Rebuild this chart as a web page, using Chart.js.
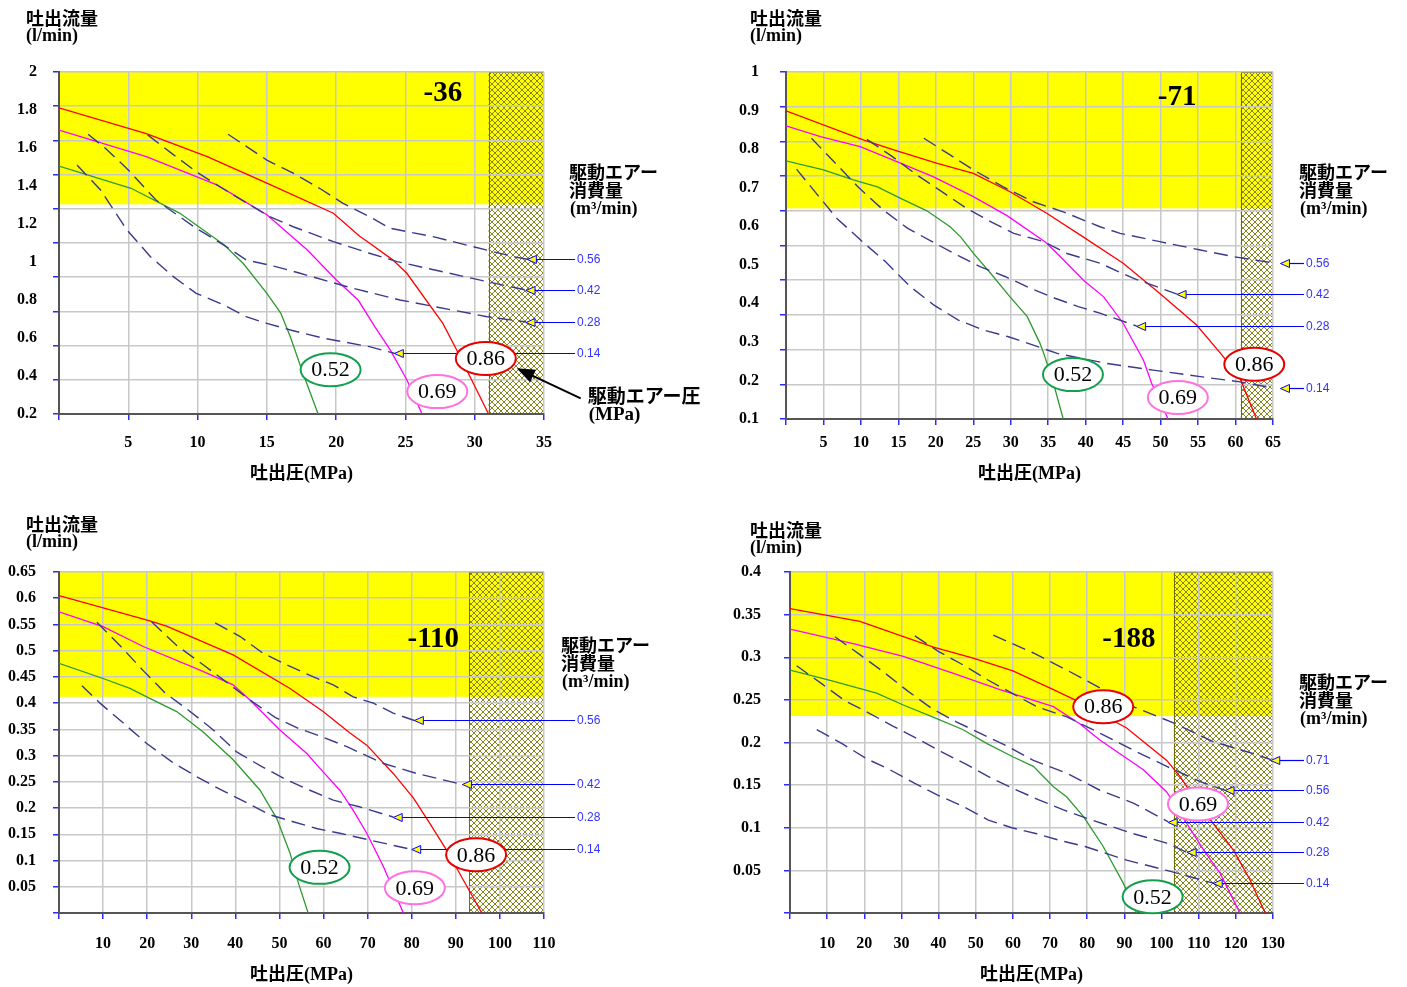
<!DOCTYPE html>
<html>
<head>
<meta charset="utf-8">
<script src="https://cdn.jsdelivr.net/npm/chart.js@4"></script>
<style>
  body { margin: 0; background: #fff; overflow: hidden; }
  #wrap { position: relative; width: 1407px; height: 987px; }
  canvas { position: absolute; }
</style>
</head>
<body>
<div id="wrap">
  <canvas id="c1" width="703" height="493" style="left:0;top:0"></canvas>
  <canvas id="c2" width="704" height="493" style="left:703px;top:0"></canvas>
  <canvas id="c3" width="703" height="494" style="left:0;top:493px"></canvas>
  <canvas id="c4" width="704" height="494" style="left:703px;top:493px"></canvas>
</div>
<script>

// ---- data: 吐出圧 (MPa) vs 吐出流量 (l/min) ----

const MODELS = ["-36", "-71", "-110", "-188"]
const AIR = ["0.14", "0.28", "0.42", "0.56", "0.71"]   // 駆動エアー消費量 (m3/min)
const DRIVE = ["0.52", "0.69", "0.86"]                 // 駆動エアー圧 (MPa)

const X_MAX = [35, 65, 110, 130]
const X_STEP = [5, 5, 10, 10]
const Y_MAX = [2, 1, 0.65, 0.4]
const Y_STEP = [0.2, 0.1, 0.05, 0.05]
const Y_LABEL_MIN = [0.2, 0.1, null, null]   // top charts print their labels on a shifted scale

const YELLOW_FROM = [1.226, 0.607, 0.412, 0.231]
const HATCH_FROM = [31, 60.7, 93, 103.3]

// -36
const c1Green = [[0,1.45],[5.2,1.32],[8.7,1.175],[11.9,0.99],[13.3,0.88],[15,0.705],[16,0.59],[16.7,0.45],[17.6,0.24],[18.7,0]]
const c1Pink = [[0,1.66],[6.3,1.505],[11.4,1.34],[15,1.165],[17.9,0.96],[20,0.785],[21.6,0.665],[22.8,0.51],[23.9,0.375],[25.1,0.2],[26.2,0]]
const c1Red = [[0,1.79],[6.3,1.64],[10.7,1.505],[15,1.35],[19.8,1.174],[21.7,1.04],[22.4,1.0],[24.1,0.9],[25.1,0.823],[27.7,0.53],[28.7,0.374],[29.9,0.18],[31,0]]
const c1Air14 = [[1.3,1.456],[3,1.31],[4.9,1.076],[6.6,0.92],[8.25,0.803],[9.9,0.706],[11.9,0.637],[13.5,0.569],[15,0.53],[16.7,0.491],[19.1,0.443],[22.4,0.394],[24.2,0.355]]
const c1Air28 = [[2.1,1.636],[3.4,1.55],[5,1.427],[7,1.251],[9.9,1.086],[11.9,0.988],[13.5,0.901],[15.5,0.865],[17.4,0.823],[20.8,0.744],[24.6,0.667],[30.9,0.569],[33.7,0.538]]
const c1Air42 = [[6.4,1.632],[8.2,1.52],[9.9,1.417],[11.6,1.329],[13.4,1.241],[15.2,1.154],[16.9,1.095],[19.8,1.008],[22.4,0.94],[24.4,0.891],[30.9,0.774],[33.7,0.725]]
const c1Air56 = [[12.2,1.636],[15,1.485],[16.9,1.408],[18.8,1.32],[20.5,1.232],[22.4,1.154],[23.9,1.086],[27,1.037],[29.9,0.978],[32.8,0.92],[33.8,0.905]]

// -71
const c2Green = [[0,0.744],[5,0.718],[9,0.689],[12.2,0.669],[15.3,0.636],[18.8,0.6],[21.9,0.554],[23.3,0.525],[25,0.478],[27.3,0.42],[29.9,0.352],[32.2,0.295],[33.9,0.218],[34.4,0.189],[35.7,0.103],[37,0]]
const c2Pink = [[0,0.845],[4.6,0.814],[9.9,0.785],[14.8,0.742],[19.7,0.698],[25,0.641],[29.5,0.586],[34.6,0.51],[36.2,0.477],[39.7,0.4],[42.4,0.352],[45,0.276],[47.7,0.17],[48.8,0.103],[51,0]]
const c2Red = [[0,0.888],[10.4,0.804],[14.8,0.773],[20.2,0.737],[25,0.708],[29.9,0.655],[34.8,0.593],[39.5,0.527],[45,0.449],[49.9,0.362],[54.8,0.271],[58.2,0.184],[60.6,0.117],[62.8,0]]
const c2Air14 = [[1.4,0.72],[4.2,0.646],[6.8,0.578],[10.2,0.511],[13.3,0.453],[16.6,0.381],[19.7,0.329],[23,0.285],[26.4,0.256],[29.7,0.237],[33,0.213],[36.2,0.189],[42.8,0.16],[49,0.141],[55.3,0.122],[60.6,0.107],[64.6,0.091]]
const c2Air28 = [[3.4,0.809],[6.6,0.737],[9.7,0.667],[13,0.602],[16.2,0.55],[19.5,0.511],[22.8,0.473],[25.9,0.439],[29.3,0.41],[32.6,0.377],[35.9,0.348],[39,0.324],[41.9,0.305],[46.8,0.268]]
const c2Air42 = [[10.8,0.806],[14.2,0.756],[17.3,0.706],[20.6,0.658],[23.9,0.61],[27.3,0.569],[30.4,0.535],[34.4,0.511],[37.5,0.477],[41.9,0.449],[46.4,0.405],[52.2,0.36]]
const c2Air56 = [[18.4,0.809],[21.9,0.761],[25,0.718],[29,0.669],[33,0.626],[37,0.597],[41.9,0.554],[44.6,0.535],[49.9,0.511],[55.3,0.487],[59.7,0.468],[65,0.45]]

// -110
const c3Green = [[0,0.476],[10,0.447],[16.1,0.428],[19.9,0.412],[26.7,0.384],[32.7,0.345],[39.5,0.292],[45.6,0.234],[49.4,0.18],[52.4,0.114],[54.3,0.057],[56.5,0]]
const c3Pink = [[0,0.574],[10,0.546],[19.1,0.508],[32,0.463],[39.5,0.435],[43.3,0.406],[50.1,0.349],[56.2,0.304],[59.9,0.269],[63.7,0.234],[66.7,0.196],[69.8,0.152],[73.6,0.088],[78.1,0]]
const c3Red = [[0,0.605],[20.6,0.557],[24.4,0.547],[39.5,0.492],[52.4,0.428],[59.9,0.384],[66,0.343],[69.8,0.32],[75.8,0.266],[80.4,0.219],[84.1,0.171],[87.9,0.12],[91.7,0.063],[95.9,0]]
const c3Air14 = [[5.2,0.433],[9.3,0.4],[14.6,0.362],[19.9,0.323],[25.6,0.288],[31.2,0.26],[36.9,0.234],[42.2,0.212],[47.9,0.187],[53.1,0.174],[58.4,0.161],[63.7,0.152],[70.5,0.139],[80,0.121]]
const c3Air28 = [[8.6,0.554],[13.8,0.51],[19.1,0.462],[24,0.42],[29.3,0.387],[35,0.349],[40.3,0.307],[46,0.279],[51.6,0.254],[56.9,0.234],[62.2,0.215],[67.9,0.203],[75.8,0.183]]
const c3Air42 = [[21,0.555],[26.7,0.51],[32.4,0.475],[38,0.44],[43.3,0.406],[49,0.373],[54.3,0.352],[59.9,0.335],[65.3,0.317],[73.6,0.285],[81.1,0.266],[91.5,0.245]]
const c3Air56 = [[35.4,0.553],[41.1,0.527],[46.3,0.495],[51.6,0.473],[57.7,0.45],[62.2,0.435],[66.7,0.412],[71.3,0.4],[75.8,0.381],[80.6,0.367]]

// -188
const c4Green = [[0,0.285],[10.8,0.273],[23.3,0.258],[30.5,0.244],[39.5,0.228],[46.6,0.215],[52.9,0.199],[60.1,0.183],[65.5,0.172],[70.9,0.148],[74.5,0.136],[79,0.113],[84.3,0.078],[89.7,0.035],[93.3,0]]
const c4Pink = [[0,0.333],[17,0.316],[30.5,0.301],[44,0.281],[56.5,0.262],[70.9,0.242],[78,0.222],[83.4,0.203],[95.1,0.168],[101.4,0.142],[106.8,0.105],[111.3,0.074],[115.7,0.047],[121.1,0]]
const c4Red = [[0,0.357],[18.8,0.342],[38.6,0.312],[49.3,0.299],[60,0.284],[70.9,0.262],[76.7,0.25],[90.6,0.217],[101.4,0.179],[105,0.16],[110.4,0.125],[119.3,0.074],[123.8,0.039],[127.9,0]]
const c4Air14 = [[7.2,0.215],[13.9,0.199],[20.6,0.181],[26.9,0.168],[33.6,0.152],[39.9,0.138],[46.6,0.125],[53.4,0.109],[59.7,0.1],[66.4,0.093],[72.7,0.085],[79.4,0.078],[90.6,0.062],[101.4,0.05],[113.9,0.035]]
const c4Air28 = [[1.8,0.29],[8.5,0.269],[14.8,0.249],[21.5,0.234],[27.8,0.219],[34.5,0.204],[40.8,0.189],[47.6,0.174],[54.3,0.158],[60.6,0.145],[66.8,0.133],[73.6,0.121],[79.9,0.111],[92.4,0.093],[101.4,0.082],[106.9,0.071]]
const c4Air42 = [[12.1,0.324],[18.8,0.303],[25.1,0.283],[31.8,0.26],[38.1,0.24],[44.9,0.224],[51.1,0.211],[57.9,0.197],[65.5,0.179],[74.5,0.164],[83.4,0.144],[92.4,0.129],[101.8,0.107]]
const c4Air56 = [[33.6,0.325],[39.9,0.307],[46.6,0.291],[53.4,0.273],[59.7,0.258],[66.4,0.242],[74.5,0.23],[83.4,0.211],[92.4,0.191],[101.4,0.172],[110.4,0.154],[117.1,0.144]]
const c4Air71 = [[54.7,0.326],[65.5,0.305],[74.5,0.285],[83.4,0.264],[92.4,0.242],[103.2,0.223],[113.9,0.201],[124.7,0.187],[129.4,0.18]]

const DRIVE_SERIES = [
  [c1Green, c1Pink, c1Red],
  [c2Green, c2Pink, c2Red],
  [c3Green, c3Pink, c3Red],
  [c4Green, c4Pink, c4Red]
]

const AIR_SERIES = [
  [c1Air14, c1Air28, c1Air42, c1Air56],
  [c2Air14, c2Air28, c2Air42, c2Air56],
  [c3Air14, c3Air28, c3Air42, c3Air56],
  [c4Air14, c4Air28, c4Air42, c4Air56, c4Air71]
]


// ---- layout (canvas pixels) and label anchors (axis units) ----

const LAYOUT = [
  { id: "c1", w: 703, h: 493, area: [59, 72, 544, 414], yPad: 22, xPad: 13, titlePad: 8,
    yTitle: [26, 18], side: [25, 100], name: [27.7, 1.875],
    tags: [[19.6, 0.259], [27.3, 0.131], [30.8, 0.325]],
    arrows: [[24.2, 0.355], [33.7, 0.538], [33.7, 0.725], [33.8, 0.905]],
    drive: [33.03, 0.267] },
  { id: "c2", w: 704, h: 493, area: [83, 72, 570, 419], yPad: 27, xPad: 8, titlePad: 8,
    yTitle: [47, 18], side: [26, 100], name: [52.2, 0.927],
    tags: [[38.3, 0.128], [52.3, 0.062], [62.5, 0.158]],
    arrows: [[66, 0.0885], [46.8, 0.268], [52.2, 0.36], [66, 0.4504]] },
  { id: "c3", w: 703, h: 494, area: [59, 79, 544, 420], yPad: 17, xPad: 15, titlePad: 1,
    yTitle: [26, 31], side: [17, 73], name: [84.9, 0.522],
    tags: [[59.1, 0.087], [80.7, 0.048], [94.6, 0.111]],
    arrows: [[80, 0.122], [75.8, 0.183], [91.5, 0.245], [80.6, 0.367]] },
  { id: "c4", w: 704, h: 494, area: [87, 79, 570, 420], yPad: 23, xPad: 15, titlePad: 1,
    yTitle: [47, 37], side: [26, 110], name: [91.2, 0.321],
    tags: [[97.6, 0.019], [109.8, 0.128], [84.3, 0.242]],
    arrows: [[113.9, 0.035], [106.9, 0.071], [101.8, 0.107], [117.1, 0.144], [129.4, 0.18]] }
]

const SERIF = '"Liberation Serif", "Noto Sans CJK JP"'
const CJK = '"Noto Sans CJK JP"'
const DRIVE_COLORS = ["#2e9a2e", "#ff00ff", "#ff0000"]
const TAG_COLORS = ["#13a04e", "#ff70e0", "#e80000"]
const AIR_COLOR = "#3a3a8c"

const pts = arr => arr.map(([x, y]) => ({ x, y }))
const fmt = v => v === 0 ? "" : String(+v.toFixed(2))


function hatchPattern(ctx) {
       const p = document.createElement("canvas")
       p.width = p.height = 6
       const g = p.getContext("2d")
       g.strokeStyle = "#86861c"
       g.lineWidth = 1
       g.beginPath()
       g.moveTo(0, 0); g.lineTo(6, 6)
       g.moveTo(6, 0); g.lineTo(0, 6)
       g.stroke()
       return ctx.createPattern(p, "repeat")
}


function overlay(i) {

       const L = LAYOUT[i]

       return {
              id: "overlay" + i,

              beforeDraw(chart) {
                     const { ctx, chartArea: a, scales: { x, y } } = chart
                     ctx.save()
                     const yb = y.getPixelForValue(YELLOW_FROM[i])
                     ctx.fillStyle = "#ffff00"
                     ctx.fillRect(a.left, a.top, a.right - a.left, yb - a.top)
                     const hx = x.getPixelForValue(HATCH_FROM[i])
                     ctx.fillStyle = hatchPattern(ctx)
                     ctx.fillRect(hx, a.top, a.right - hx, a.bottom - a.top)
                     ctx.strokeStyle = "#6e6e00"
                     ctx.lineWidth = 1
                     ctx.strokeRect(Math.round(hx) + 0.5, a.top + 0.5, a.right - Math.round(hx) - 1, a.bottom - a.top - 1)
                     ctx.restore()
              },

              afterDatasetsDraw(chart) {
                     const { ctx, chartArea: a, scales: { x, y } } = chart
                     ctx.save()
                     ctx.textBaseline = "middle"

                     // model number
                     ctx.fillStyle = "#000"
                     ctx.textAlign = "center"
                     ctx.font = "bold 29px " + SERIF
                     ctx.fillText(MODELS[i], x.getPixelForValue(L.name[0]), y.getPixelForValue(L.name[1]))

                     // air consumption arrows
                     L.arrows.forEach(([ax, ay], k) => {
                            const tx = x.getPixelForValue(ax)
                            const ty = Math.round(y.getPixelForValue(ay)) + 0.5
                            ctx.strokeStyle = "#0000ff"
                            ctx.lineWidth = 1.2
                            ctx.beginPath()
                            ctx.moveTo(tx + 9, ty)
                            ctx.lineTo(a.right + 31, ty)
                            ctx.stroke()
                            ctx.beginPath()
                            ctx.moveTo(tx, ty)
                            ctx.lineTo(tx + 9, ty - 4)
                            ctx.lineTo(tx + 9, ty + 4)
                            ctx.closePath()
                            ctx.fillStyle = "#ffff00"
                            ctx.fill()
                            ctx.lineWidth = 1
                            ctx.stroke()
                            ctx.fillStyle = "#3333ff"
                            ctx.textAlign = "left"
                            ctx.font = '12px "Liberation Sans"'
                            ctx.fillText(AIR[k], a.right + 33, ty)
                     })

                     // drive pressure tags
                     L.tags.forEach(([tx, ty], k) => {
                            const px = x.getPixelForValue(tx)
                            const py = y.getPixelForValue(ty)
                            ctx.beginPath()
                            ctx.ellipse(px, py, 30, 16.5, 0, 0, Math.PI * 2)
                            ctx.fillStyle = "#fff"
                            ctx.fill()
                            ctx.lineWidth = 2
                            ctx.strokeStyle = TAG_COLORS[k]
                            ctx.stroke()
                            ctx.fillStyle = "#000"
                            ctx.textAlign = "center"
                            ctx.font = '22px "Liberation Serif"'
                            ctx.fillText(DRIVE[k], px, py + 1)
                     })

                     // side caption
                     const sx = a.right + L.side[0]
                     const sy = a.top + L.side[1]
                     ctx.fillStyle = "#000"
                     ctx.textAlign = "left"
                     ctx.font = "bold 18px " + CJK
                     ctx.fillText("駆動エアー", sx, sy)
                     ctx.fillText("消費量", sx, sy + 18.5)
                     ctx.font = "bold 18px " + SERIF
                     ctx.fillText("(m³/min)", sx + 1, sy + 37)

                     // y axis caption
                     ctx.font = "bold 18px " + CJK
                     ctx.fillText("吐出流量", L.yTitle[0], L.yTitle[1])
                     ctx.font = "bold 18px " + SERIF
                     ctx.fillText("(l/min)", L.yTitle[0], L.yTitle[1] + 18)

                     // drive pressure pointer (first chart only)
                     if (L.drive) {
                            const hx = x.getPixelForValue(L.drive[0])
                            const hy = y.getPixelForValue(L.drive[1])
                            const ex = hx + 64, ey = hy + 30
                            const ang = Math.atan2(hy - ey, hx - ex)
                            ctx.strokeStyle = "#000"
                            ctx.lineWidth = 2
                            ctx.beginPath()
                            ctx.moveTo(ex, ey)
                            ctx.lineTo(hx - Math.cos(ang) * 12, hy - Math.sin(ang) * 12)
                            ctx.stroke()
                            ctx.beginPath()
                            ctx.moveTo(hx, hy)
                            ctx.lineTo(hx - Math.cos(ang) * 18 + Math.sin(ang) * 7, hy - Math.sin(ang) * 18 - Math.cos(ang) * 7)
                            ctx.lineTo(hx - Math.cos(ang) * 18 - Math.sin(ang) * 7, hy - Math.sin(ang) * 18 + Math.cos(ang) * 7)
                            ctx.closePath()
                            ctx.fillStyle = "#000"
                            ctx.fill()
                            ctx.font = "bold 19px " + CJK
                            ctx.fillText("駆動エアー圧", ex + 7, ey - 3)
                            ctx.font = "bold 19px " + SERIF
                            ctx.fillText("(MPa)", ex + 8, ey + 17)
                     }

                     ctx.restore()
              }
       }
}


function buildScales(i) {

       const L = LAYOUT[i]
       const [left, , , bottom] = L.area
       const tickFont = { family: SERIF, size: 16, weight: "bold" }
       const shifted = Y_LABEL_MIN[i] !== null

       const scales = {
              x: {
                     type: "linear",
                     min: 0,
                     max: X_MAX[i],
                     ticks: { stepSize: X_STEP[i], color: "#000", font: tickFont, padding: L.xPad, autoSkip: false, maxRotation: 0, callback: fmt },
                     grid: { color: "#c8c8c8", lineWidth: 1.5, tickColor: "#2b2bff", tickLength: 6 },
                     border: { color: "#555", width: 2 },
                     title: { display: true, text: "吐出圧(MPa)", color: "#000", font: { family: SERIF, size: 18, weight: "bold" }, padding: { top: 0, bottom: L.titlePad } },
                     afterFit: s => { s.height = L.h - bottom }
              },
              y: {
                     type: "linear",
                     axis: "y",
                     position: "left",
                     weight: 0,
                     min: 0,
                     max: Y_MAX[i],
                     ticks: { stepSize: Y_STEP[i], display: !shifted, color: "#000", font: tickFont, padding: L.yPad, callback: fmt },
                     grid: { color: "#c8c8c8", lineWidth: 1.5, tickColor: "#2b2bff", tickLength: 6 },
                     border: { color: "#555", width: 2 },
                     afterFit: s => { s.width = shifted ? 0 : left }
              }
       }

       if (shifted) {
              scales.yl = {
                     type: "linear",
                     axis: "y",
                     position: "left",
                     weight: 1,
                     min: Y_LABEL_MIN[i],
                     max: Y_MAX[i],
                     ticks: { stepSize: Y_STEP[i], color: "#000", font: tickFont, padding: L.yPad, callback: fmt },
                     grid: { display: false, drawTicks: false, tickLength: 0 },
                     border: { display: false },
                     afterFit: s => { s.width = left }
              }
       }

       return scales
}


function drawChart(i) {

       const L = LAYOUT[i]
       const [, top, right] = L.area
       const datasets = []

       AIR_SERIES[i].forEach(s => {
              datasets.push({
                     data: pts(s),
                     yAxisID: "y",
                     borderColor: AIR_COLOR,
                     borderWidth: 1.4,
                     borderDash: [14, 7],
                     pointRadius: 0,
                     tension: 0
              })
       })

       DRIVE_SERIES[i].forEach((s, k) => {
              datasets.push({
                     data: pts(s),
                     yAxisID: "y",
                     borderColor: DRIVE_COLORS[k],
                     borderWidth: 1.3,
                     pointRadius: 0,
                     tension: 0
              })
       })

       new Chart(document.getElementById(L.id), {
              type: "line",
              data: { datasets },
              options: {
                     responsive: false,
                     animation: false,
                     events: [],
                     layout: { padding: { left: 0, top: top, right: L.w - right, bottom: 0 } },
                     plugins: { legend: { display: false }, tooltip: { enabled: false } },
                     scales: buildScales(i)
              },
              plugins: [overlay(i)]
       })
}


for (let i = 0; i < 4; i++) drawChart(i)

</script>
</body>
</html>
